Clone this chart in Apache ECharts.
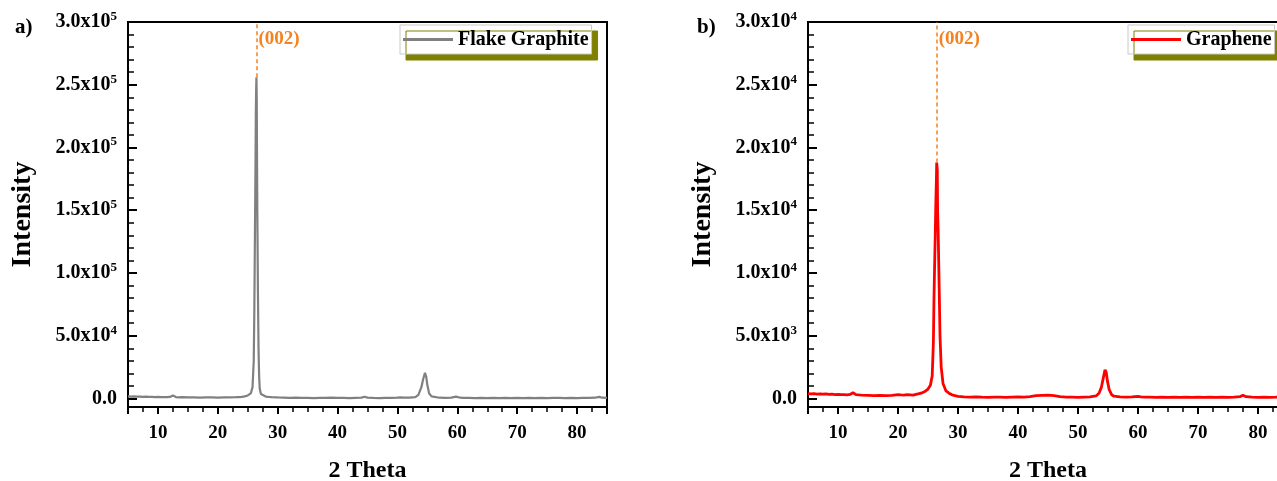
<!DOCTYPE html>
<html>
<head>
<meta charset="utf-8">
<script src="https://cdn.jsdelivr.net/npm/echarts@6/dist/echarts.min.js"></script>
<style>html,body{margin:0;padding:0;background:#fff;}#chart{width:1277px;height:481px;}</style>
</head>
<body>
<div id="chart"></div>
<script>
// ---------- data ----------
const thetaA = [5,5.5,6,6.5,7,7.5,8,8.5,9,9.5,10,10.5,11,11.5,12,12.5,13,13.5,14,15,16,17,18,19,20,21,22,23,23.5,24,24.5,25,25.5,25.8,26.0,26.1,26.2,26.3,26.35,26.4,26.45,26.5,26.55,26.6,26.7,26.8,26.9,27.0,27.2,27.5,28,28.5,29,30,31,32,33,34,35,36,37,38,39,40,41,42,43,44,44.5,45,46,47,48,49,50,50.5,51,52,53,53.5,54,54.3,54.6,54.8,55,55.3,55.7,56,57,58,59,59.8,60.5,61,62,63,64,65,66,67,68,69,70,71,72,73,74,75,76,77,78,79,80,81,82,83,83.7,84.2,85];
const intensityA = [1700,1500,1600,1400,1500,1300,1500,1200,1300,1100,1200,1000,1100,1000,1200,2300,1100,900,1000,800,900,700,800,900,700,800,900,1000,1100,1300,1700,2400,4000,9000,30000,70000,130000,190000,226000,245000,256000,238000,190000,148000,85000,40000,18000,8000,3500,2000,1500,1200,1000,800,700,500,600,400,500,300,500,400,600,400,500,300,500,700,1400,700,400,300,500,400,600,900,700,600,1100,2800,9000,15500,20500,17500,10500,4000,1700,1000,600,500,700,1500,600,500,400,300,400,300,500,300,400,300,500,300,400,300,400,300,500,400,300,400,300,500,400,600,1300,600,500];

const thetaB = [5,5.5,6,6.5,7,7.5,8,8.5,9,9.5,10,10.5,11,11.5,12,12.5,13,13.5,14,15,16,17,18,19,20,20.5,21,21.5,22,22.5,23,23.5,24,24.5,25,25.4,25.7,25.9,26.0,26.1,26.2,26.3,26.4,26.45,26.55,26.6,26.7,26.8,26.9,27.0,27.2,27.5,28,28.5,29,29.5,30,31,32,33,34,35,36,37,38,39,40,41,42,43,44,45,46,47,48,49,50,51,52,53,53.5,53.9,54.2,54.5,54.7,54.9,55.2,55.6,56,57,58,59,60,60.5,61,62,63,64,65,66,67,68,69,70,71,72,73,74,75,76,77,77.5,78,79,80,81,82,83,83.5,84,84.5,85];
const intensityB = [380,360,390,350,370,340,360,330,340,310,330,300,310,290,320,460,310,280,260,250,230,240,220,250,300,280,270,300,290,260,320,380,450,560,750,1050,1800,4500,8000,10500,12800,15500,17500,18800,18200,15000,13200,10500,7800,5000,2500,1200,600,420,290,220,170,130,110,120,100,90,110,100,90,110,120,110,140,220,250,260,230,150,110,100,90,110,120,200,420,900,1600,2280,2100,1400,700,300,180,120,100,120,170,130,110,100,90,100,90,100,80,100,90,100,90,100,80,100,90,110,150,250,140,100,90,100,90,110,130,220,320,380];

const peakA = [26.45, 256000];
const peakB = [26.45, 18800];
const peakLabel = '(002)';
const seriesNames = ['Flake Graphite', 'Graphene'];
const panelLabels = ['a)', 'b)'];
const xTickValues = [10,20,30,40,50,60,70,80];
const xTickText = ['10','20','30','40','50','60','70','80'];
const yTickValuesA = [0,50000,100000,150000,200000,250000,300000];
const yTickTextA = ['0.0','5.0x10^4','1.0x10^5','1.5x10^5','2.0x10^5','2.5x10^5','3.0x10^5'];
const yTickValuesB = [0,5000,10000,15000,20000,25000,30000];
const yTickTextB = ['0.0','5.0x10^3','1.0x10^4','1.5x10^4','2.0x10^4','2.5x10^4','3.0x10^4'];
const xTitle = '2 Theta';
const yTitle = 'Intensity';

// ---------- helpers ----------
const F = '"Liberation Serif", "Times New Roman", serif';
const ORANGE = '#F5821F';
const zip = (xs, ys) => xs.map((x, i) => [x, ys[i]]);
function xFmt(v) {
  const i = xTickValues.findIndex(t => Math.abs(t - v) < 1e-6);
  return i < 0 ? '' : xTickText[i];
}
function yFmtFactory(vals, texts) {
  return function (v) {
    const i = vals.findIndex(t => Math.abs(t - v) < 1e-6);
    if (i < 0) return '';
    const parts = texts[i].split('^');
    return parts.length > 1 ? '{m|' + parts[0] + '}{s|' + parts[1] + '}' : '{m|' + parts[0] + '}';
  };
}
const rich = {
  m: { fontFamily: F, fontWeight: 'bold', fontSize: 20, color: '#000', lineHeight: 24 },
  s: { fontFamily: F, fontWeight: 'bold', fontSize: 13, color: '#000', lineHeight: 13, verticalAlign: 'top' }
};
const boldText = (size, color) => ({ fontFamily: F, fontWeight: 'bold', fontSize: size, color: color || '#000' });

function xAxes(gi) {
  return [
    {
      type: 'value', gridIndex: gi, position: 'bottom', min: 5, max: 85,
      splitNumber: 8, minInterval: 10, maxInterval: 10,
      name: xTitle, nameLocation: 'middle', nameGap: 52, nameTextStyle: boldText(24),
      axisLine: { show: true, onZero: false, lineStyle: { color: '#000', width: 2 } },
      axisTick: { show: true, inside: false, length: 7, lineStyle: { color: '#000', width: 2 } },
      axisLabel: { margin: 17, formatter: xFmt, ...boldText(19), showMinLabel: true, showMaxLabel: true },
      splitLine: { show: false }
    },
    {
      type: 'value', gridIndex: gi, position: 'bottom', min: 5, max: 85, interval: 2.5,
      axisLine: { show: false, onZero: false },
      axisTick: { show: true, inside: false, length: 5, lineStyle: { color: '#000', width: 1.5 } },
      axisLabel: { show: false }, splitLine: { show: false }
    }
  ];
}
function yAxes(gi, min, max, major, minor, vals, texts) {
  return [
    {
      type: 'value', gridIndex: gi, position: 'left', min: min, max: max,
      splitNumber: 6, minInterval: major, maxInterval: major,
      name: yTitle, nameLocation: 'middle', nameGap: 91, nameRotate: 90, nameTextStyle: boldText(28),
      axisLine: { show: true, onZero: false, lineStyle: { color: '#000', width: 2 } },
      axisTick: { show: true, inside: true, length: 9, lineStyle: { color: '#000', width: 2 } },
      axisLabel: { margin: 11, formatter: yFmtFactory(vals, texts), rich: rich },
      splitLine: { show: false }
    },
    {
      type: 'value', gridIndex: gi, position: 'left', min: min, max: max,
      splitNumber: 30, minInterval: minor, maxInterval: minor,
      axisLine: { show: false, onZero: false },
      axisTick: { show: true, inside: true, length: 6, lineStyle: { color: '#000', width: 1.5 } },
      axisLabel: { show: false }, splitLine: { show: false }
    }
  ];
}
function legendCfg(name, left) {
  return {
    data: [{ name: name, icon: 'rect' }], left: left, top: 25, orient: 'horizontal',
    backgroundColor: '#fff', borderColor: '#c8c8c8', borderWidth: 1,
    shadowColor: '#808000', shadowBlur: 0, shadowOffsetX: 6, shadowOffsetY: 6,
    padding: [4, 3, 4, 3], itemWidth: 50, itemHeight: 3, itemGap: 0,
    textStyle: { ...boldText(20), lineHeight: 21 }, selectedMode: false
  };
}
function peakMarks(peak, top, labelY) {
  return {
    markLine: {
      silent: true, symbol: 'none', animation: false,
      lineStyle: { color: ORANGE, type: [4, 3], width: 1.5, opacity: 1 },
      emphasis: { disabled: true },
      label: { show: false },
      data: [[{ coord: [peak[0], peak[1]], lineStyle: { color: ORANGE } }, { coord: [peak[0], top] }]]
    },
    markPoint: {
      silent: true, symbol: 'circle', symbolSize: 0, animation: false,
      label: { show: true, position: 'right', distance: 2, formatter: peakLabel, ...boldText(19, ORANGE) },
      data: [{ coord: [peak[0], labelY] }]
    }
  };
}

const chart = echarts.init(document.getElementById('chart'), null, { renderer: 'canvas' });
const gridBase = { top: 22, height: 385, show: true, borderColor: '#000', borderWidth: 2, backgroundColor: 'transparent', containLabel: false, outerBoundsMode: 'none' };
const option = {
  animation: false,
  backgroundColor: '#fff',
  title: [
    { text: panelLabels[0], left: 10, top: 12, textStyle: boldText(21) },
    { text: panelLabels[1], left: 692, top: 12, textStyle: boldText(21) }
  ],
  legend: [legendCfg(seriesNames[0], 400), legendCfg(seriesNames[1], 1128)],
  grid: [
    { ...gridBase, left: 128, width: 479 },
    { ...gridBase, left: 808, width: 480 }
  ],
  xAxis: [...xAxes(0), ...xAxes(1)],
  yAxis: [
    ...yAxes(0, -6800, 300000, 50000, 10000, yTickValuesA, yTickTextA),
    ...yAxes(1, -680, 30000, 5000, 1000, yTickValuesB, yTickTextB)
  ],
  series: [
    {
      name: seriesNames[0], type: 'line', xAxisIndex: 0, yAxisIndex: 0,
      data: zip(thetaA, intensityA), symbol: 'none', showSymbol: false,
      lineStyle: { color: '#808080', width: 2.2 }, itemStyle: { color: '#808080' },
      ...peakMarks(peakA, 300000, 286000)
    },
    {
      name: seriesNames[1], type: 'line', xAxisIndex: 2, yAxisIndex: 2,
      data: zip(thetaB, intensityB), symbol: 'none', showSymbol: false,
      lineStyle: { color: '#FF0000', width: 2.8 }, itemStyle: { color: '#FF0000' },
      ...peakMarks(peakB, 30000, 28600)
    }
  ]
};
chart.setOption(option);
</script>
</body>
</html>
